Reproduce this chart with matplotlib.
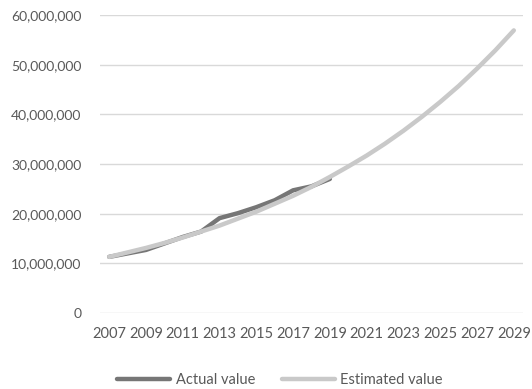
import matplotlib.pyplot as plt
from matplotlib.ticker import FuncFormatter

years = list(range(2007, 2030))
actual = [11.3, 12.0, 12.7, 14.0, 15.3, 16.4, 19.1, 20.1, 21.3, 22.7, 24.7, 25.5, 27.0]
estimated = [11.3, 12.2, 13.1, 14.1, 15.2, 16.4, 17.6, 19.0, 20.4, 22.0, 23.6, 25.4,
             27.4, 29.5, 31.7, 34.1, 36.7, 39.5, 42.5, 45.7, 49.2, 52.9, 56.9]

plt.rcParams["font.family"] = ["Lato", "DejaVu Sans"]
text_color = "#595959"

fig = plt.figure(figsize=(5.32, 3.89), dpi=100)
ax = fig.add_axes([100 / 532, 76 / 389, 423 / 532, 298 / 389])

xs = list(range(len(years)))
ax.plot(xs[:len(actual)], [v * 1e6 for v in actual], color="#767676", lw=3.2,
        solid_capstyle="round", label="Actual value", zorder=3)
ax.plot(xs, [v * 1e6 for v in estimated], color="#c9c9c9", lw=3.2,
        solid_capstyle="round", label="Estimated value", zorder=4)

ax.set_xlim(-0.5, len(years) - 0.5)
ax.set_ylim(0, 60e6)
ax.set_yticks([i * 10e6 for i in range(7)])
ax.yaxis.set_major_formatter(FuncFormatter(lambda v, p: f"{int(v):,}"))
ax.set_xticks(xs[::2])
ax.set_xticklabels([str(y) for y in years[::2]])
ax.grid(axis="y", color="#d9d9d9", lw=1)
ax.set_axisbelow(True)
for s in ax.spines.values():
    s.set_visible(False)
ax.tick_params(length=0, colors=text_color)
ax.tick_params(axis="y", pad=13.5, labelsize=10)
ax.tick_params(axis="x", pad=10, labelsize=10.5)

ax.legend(loc="center", bbox_to_anchor=(0.426, -0.225), ncol=2, frameon=False,
          fontsize=10.5, handlelength=3.6, handletextpad=0.4, columnspacing=1.85,
          labelcolor=text_color)

fig.savefig("out.png", dpi=100)
